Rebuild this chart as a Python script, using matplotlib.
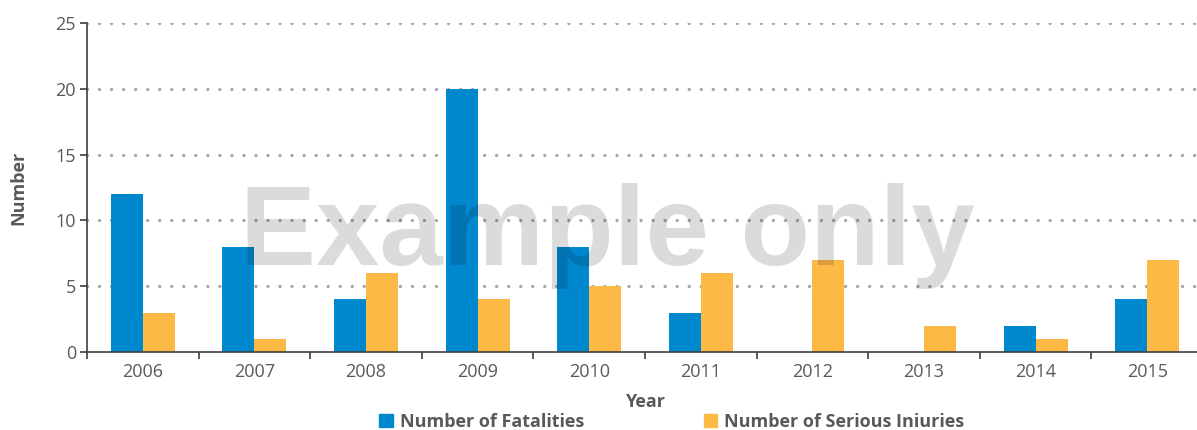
import matplotlib
matplotlib.use("Agg")
import matplotlib.pyplot as plt
import numpy as np
from matplotlib.patches import Patch

years = ["2006", "2007", "2008", "2009", "2010", "2011", "2012", "2013", "2014", "2015"]
fatalities = [12, 8, 4, 20, 8, 3, 0, 0, 2, 4]
serious_injuries = [3, 1, 6, 4, 5, 6, 7, 2, 1, 7]
series_labels = ["Number of Fatalities", "Number of Serious Iniuries"]

BLUE = "#0088CE"
ORANGE = "#FDB945"
TXT = "#595959"

plt.rcParams['font.family'] = ['Open Sans', 'DejaVu Sans']

fig = plt.figure(figsize=(11.97, 4.30), dpi=100)
ax = fig.add_axes([87/1197, 78/430, (1203-87)/1197, (352-23)/430])

x = np.arange(len(years))
w = 0.287
ax.bar(x - w/2, fatalities, width=w, color=BLUE, zorder=2)
ax.bar(x + w/2, serious_injuries, width=w, color=ORANGE, zorder=2)

ax.set_xlim(-0.5, len(years) - 0.5)
ax.set_ylim(0, 25)
ax.set_yticks([0, 5, 10, 15, 20, 25])
ax.set_xticks(x)
ax.set_xticklabels(years)
ax.set_xticks(np.arange(-0.5, len(years), 1), minor=True)
ax.tick_params(axis='x', which='major', length=0, labelsize=13, labelcolor=TXT, pad=8)
ax.tick_params(axis='x', which='minor', length=5, width=1.2, color='#404040', direction='out')
ax.tick_params(axis='y', length=5, width=1.2, color='#404040', labelsize=13, labelcolor=TXT, pad=3)

for v in [5, 10, 15, 20, 25]:
    ax.axhline(v, color='#a6a6a6', linestyle=(0, (0.01, 3.6)), linewidth=2.4, zorder=1,
               dash_capstyle='round')

for s in ['top', 'right']:
    ax.spines[s].set_visible(False)
ax.spines['left'].set_color('#404040')
ax.spines['bottom'].set_color('#404040')
ax.spines['left'].set_linewidth(1.2)
ax.spines['bottom'].set_linewidth(1.2)

ax.set_ylabel("Number", fontsize=13, fontweight='bold', color=TXT, labelpad=20)
fig.text(645/1197, 1 - 402/430, "Year", ha='center', va='center', fontsize=13,
         fontweight='bold', color=TXT)

handles = [Patch(color=BLUE), Patch(color=ORANGE)]
fig.legend(handles, series_labels, loc='center', bbox_to_anchor=(672/1197, 1 - 422/430),
           ncol=2, frameon=False, handlelength=0.75, handleheight=0.75,
           handletextpad=0.4, columnspacing=6.6, prop={'weight': 'bold', 'size': 13},
           labelcolor=TXT, borderpad=0)

fig.text(607/1197, 1 - 265/430, "Example only", ha='center', va='baseline',
         fontsize=82, fontweight='bold', color='black', alpha=0.14,
         family=['Liberation Sans', 'DejaVu Sans'], zorder=10)

fig.savefig("out.png", dpi=100)
